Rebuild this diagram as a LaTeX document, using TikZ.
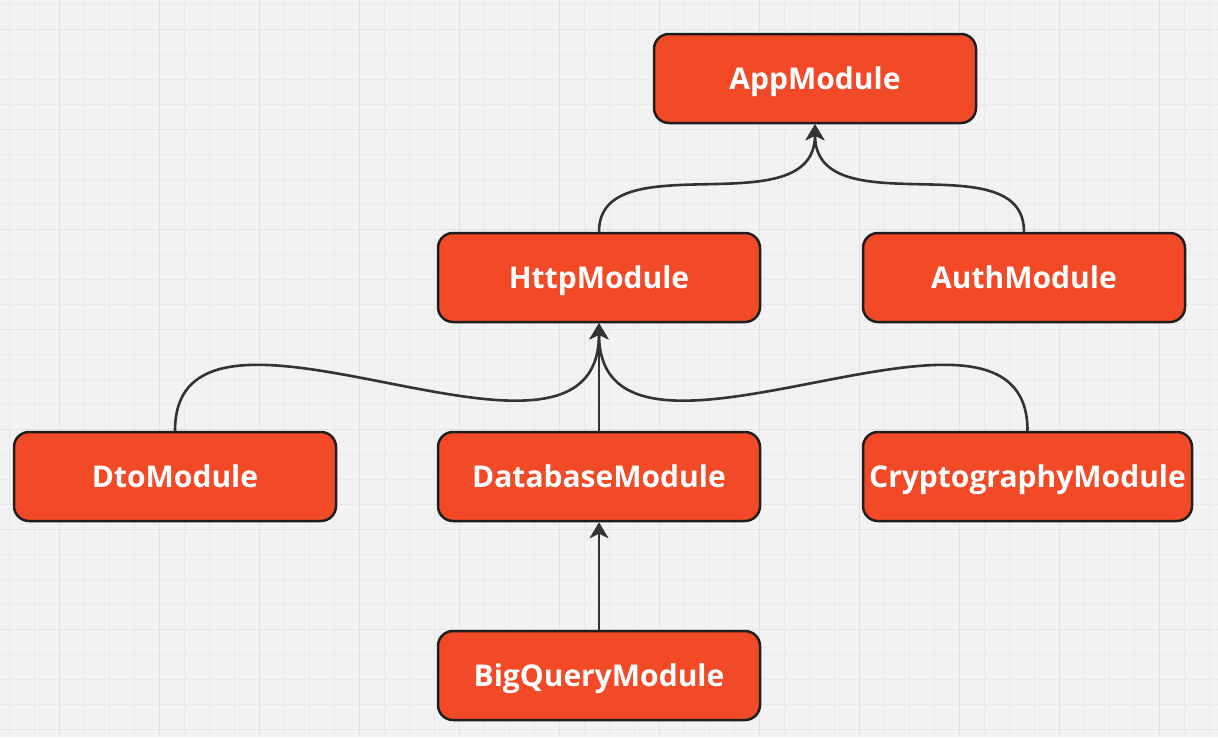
\documentclass[tikz,border=0pt]{standalone}
\usepackage{fontspec}
\setmainfont{Open Sans}
\usetikzlibrary{arrows.meta}
\definecolor{bg}{HTML}{F2F2F2}
\definecolor{gridminor}{HTML}{EAEAEA}
\definecolor{gridmajor}{HTML}{E2E2E2}
\definecolor{boxfill}{HTML}{F24927}
\definecolor{boxline}{HTML}{1E1E1E}
\definecolor{arrowcol}{HTML}{333333}
\begin{document}
\begin{tikzpicture}[x=1pt,y=-1pt,
  module/.style={draw=boxline, line width=2.5pt, fill=boxfill, rounded corners=15pt,
    minimum width=322pt, minimum height=89pt, text=white,
    font=\fontsize{30}{36}\selectfont\bfseries, inner sep=0pt,
    text height=21.5pt, text depth=0pt},
  link/.style={draw=arrowcol, line width=2.6pt, -{Stealth[length=16pt,width=19pt,inset=4.5pt]}}]
\fill[bg] (0,0) rectangle (1218,737);
\useasboundingbox (0,0) rectangle (1218,737);
\foreach \x in {9,34,...,1218} \draw[gridminor, line width=1pt] (\x,0) -- (\x,737);
\foreach \y in {4,29,...,737} \draw[gridminor, line width=1pt] (0,\y) -- (1218,\y);
\foreach \x in {59,159,...,1218} \draw[gridmajor, line width=1pt] (\x,0) -- (\x,737);
\foreach \y in {29,129,...,737} \draw[gridmajor, line width=1pt] (0,\y) -- (1218,\y);

\node[module] (app) at (815,78.5) {AppModule};
\node[module] (http) at (599,277.5) {HttpModule};
\node[module] (auth) at (1024,277.5) {AuthModule};
\node[module] (dto) at (175,476.5) {DtoModule};
\node[module] (db) at (599,476.5) {DatabaseModule};
\node[module, minimum width=329pt] (crypto) at (1027.5,476.5) {CryptographyModule};
\node[module] (bq) at (599,675.5) {BigQueryModule};

\draw[link] (http.north) .. controls +(0,-91) and +(0,104) .. (app.south);
\draw[link] (auth.north) .. controls +(0,-91) and +(0,104) .. (app.south);
\draw[link] (dto.north) .. controls +(0,-179) and +(0,191) .. (http.south);
\draw[link] (crypto.north) .. controls +(0,-179) and +(0,191) .. (http.south);
\draw[link] (db.north) -- (http.south);
\draw[link] (bq.north) -- (db.south);
\end{tikzpicture}
\end{document}
